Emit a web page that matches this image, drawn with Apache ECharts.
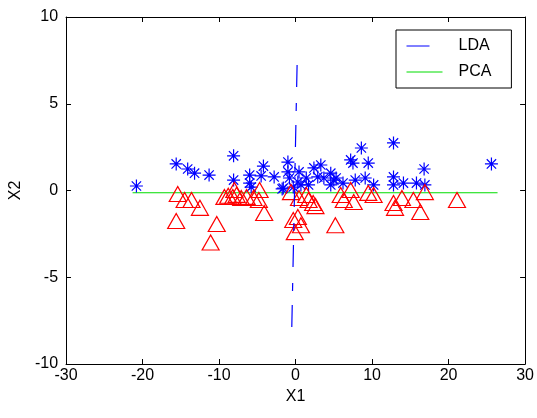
<!DOCTYPE html>
<html>
<head>
<meta charset="utf-8">
<script src="https://cdn.jsdelivr.net/npm/echarts@6/dist/echarts.min.js"></script>
<style>
html,body{margin:0;padding:0;background:#fff;}
#chart{width:537px;height:418px;}
</style>
</head>
<body>
<div id="chart"></div>
<script>
// Class 1 (blue asterisks)
var class1 = [
  [-20.8,0.26],[-15.6,1.53],[-14.1,1.24],[-13.2,1.0],[-11.3,0.89],[-8.1,2.0],[-8.1,0.6],
  [-6.0,0.89],[-6.0,0.43],[-5.8,0.2],[-4.2,1.41],[-4.5,0.84],[-2.8,0.78],[-1.75,0.09],
  [-1.0,1.64],[-1.0,1.07],[-0.8,0.72],[-1.6,0.14],[0.45,1.07],[0.3,0.49],[0.7,0.32],
  [2.4,1.3],[3.3,1.47],[2.9,0.78],[3.7,0.72],[4.6,1.0],[5.3,0.72],[4.6,0.32],[6.2,0.43],
  [1.4,0.72],[1.7,0.32],[-0.3,0.2],[5.0,0.6],[7.2,1.76],[7.5,1.58],[8.6,2.45],[9.5,1.58],
  [7.8,0.6],[9.1,0.72],[10.2,0.32],[12.8,2.74],[12.8,0.78],[12.8,0.32],[14.1,0.43],
  [15.8,0.43],[16.8,1.24],[16.9,0.32],[25.6,1.53]
];
// Class 2 (red triangles)
var class2 = [
  [-15.4,-0.2],[-14.5,-0.55],[-13.6,-0.55],[-12.5,-1.0],[-15.6,-1.76],[-10.3,-1.93],[-11.1,-3.0],
  [-9.3,-0.37],[-8.8,-0.3],[-8.2,-0.37],[-7.7,-0.25],[-7.1,-0.43],[-6.4,-0.37],[-8.0,0.03],
  [-5.5,-0.43],[-4.7,0.03],[-4.1,-1.3],[-4.8,-0.55],
  [-0.6,-0.09],[-0.3,-1.7],[0.3,-1.53],[0.7,-2.0],[-0.1,-2.4],[0.45,-0.43],[1.4,-0.26],
  [1.7,-0.55],[2.3,-0.72],[2.6,-0.9],[5.2,-2.0],[5.9,-0.26],[6.3,-0.55],[7.2,0.03],[7.6,-0.66],
  [9.5,-0.14],[10.2,-0.26],[12.8,-0.72],[13.0,-1.0],[13.9,-0.43],[15.4,-0.55],[16.3,-1.24],
  [16.9,-0.09],[21.1,-0.55]
];
// Projection directions
var ldaLine = [[0.2,7.23],[-0.5,-8.04]];
var pcaLine = [[-21.3,-0.13],[26.4,-0.13]];
var xTicks = [-30,-20,-10,0,10,20,30];
var yTicks = [-10,-5,0,5,10];

var FONT = 'Liberation Sans';
var asterisk = 'path://M0,-1L0,1M-1,0L1,0M-0.72,-0.72L0.72,0.72M-0.72,0.72L0.72,-0.72';

var chart = echarts.init(document.getElementById('chart'), null, {renderer:'canvas'});
var axisCommon = {
  axisLine:{show:true,onZero:false,lineStyle:{color:'#000',width:1}},
  axisTick:{show:true,inside:true,length:5,lineStyle:{color:'#000'}},
  splitLine:{show:false}
};
chart.setOption({
  animation:false,
  backgroundColor:'#fff',
  grid:{left:63,right:11,top:17,bottom:54,containLabel:false},
  legend:{
    orient:'vertical',
    left:396, top:30,
    backgroundColor:'#fff',
    borderColor:'#000', borderWidth:1,
    padding:[8,20,8,10],
    itemWidth:36, itemHeight:16, itemGap:10,
    itemStyle:{opacity:0},
    textStyle:{fontFamily:FONT,fontSize:16,color:'#000',padding:[0,0,0,11]},
    data:[
      {name:'LDA',lineStyle:{type:[23,40],width:1}},
      {name:'PCA',lineStyle:{width:1}}
    ]
  },
  xAxis:[
    Object.assign({type:'value',min:-30,max:30,interval:10,position:'bottom',
      name:'X1',nameLocation:'middle',nameGap:25,
      nameTextStyle:{fontFamily:FONT,fontSize:16,color:'#000'},
      axisLabel:{fontFamily:FONT,fontSize:16,color:'#000',margin:4,
        formatter:function(v){return xTicks.indexOf(v)>=0?String(v):'';}}}, axisCommon),
    Object.assign({type:'value',min:-30,max:30,interval:10,position:'top',axisLabel:{show:false}}, axisCommon)
  ],
  yAxis:[
    Object.assign({type:'value',min:-10,max:10,interval:5,position:'left',
      name:'X2',nameLocation:'middle',nameGap:40,
      nameTextStyle:{fontFamily:FONT,fontSize:16,color:'#000'},
      axisLabel:{fontFamily:FONT,fontSize:16,color:'#000',margin:8,
        formatter:function(v){return yTicks.indexOf(v)>=0?String(v):'';}}}, axisCommon),
    Object.assign({type:'value',min:-10,max:10,interval:5,position:'right',axisLabel:{show:false}}, axisCommon)
  ],
  series:[
    {name:'Class1',type:'scatter',data:class1,symbol:asterisk,symbolSize:13,
      itemStyle:{color:'rgba(0,0,0,0)',borderColor:'#0000ff',borderWidth:1.2,opacity:1},z:3},
    {name:'Class2',type:'scatter',data:class2,symbol:'triangle',symbolSize:[17,15],
      itemStyle:{color:'rgba(0,0,0,0)',borderColor:'#ff0000',borderWidth:1.2,opacity:1},z:3},
    {name:'LDA',type:'line',data:ldaLine,showSymbol:false,symbol:'none',
      lineStyle:{color:'#0000ff',width:1.2,type:[22,16,8,14]},itemStyle:{color:'#0000ff'},z:4},
    {name:'PCA',type:'line',data:pcaLine,showSymbol:false,symbol:'none',
      lineStyle:{color:'#00dd00',width:1},itemStyle:{color:'#00dd00'},z:2}
  ]
});
</script>
</body>
</html>
